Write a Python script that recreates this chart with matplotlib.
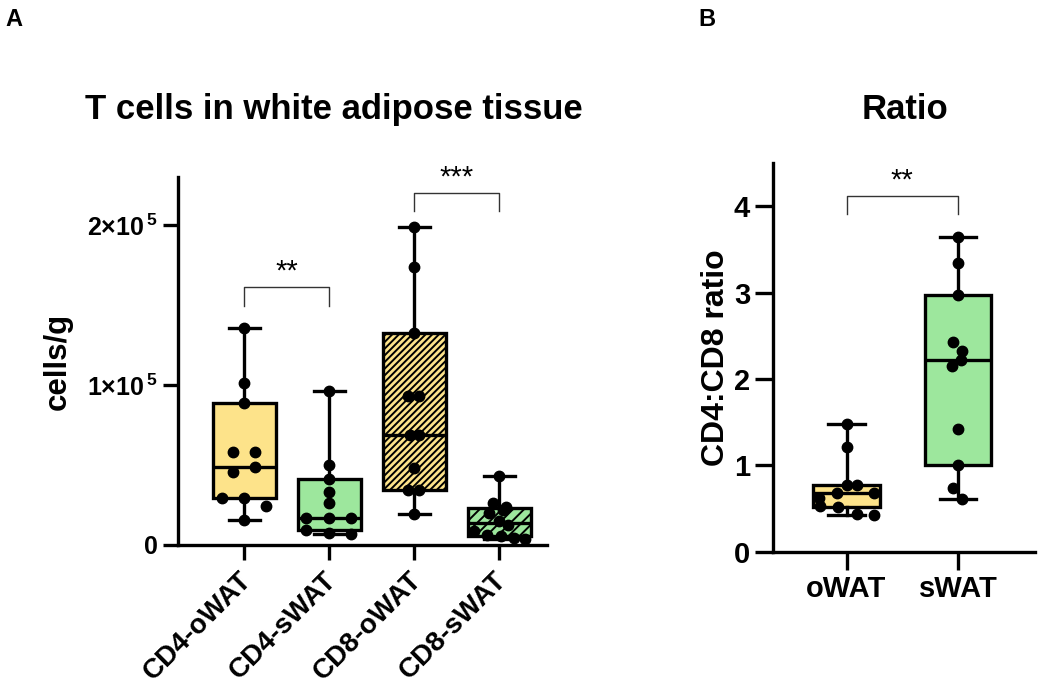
import numpy as np
import matplotlib
matplotlib.use("Agg")
import matplotlib.pyplot as plt
from matplotlib.transforms import ScaledTranslation

plt.rcParams['font.family'] = ['Liberation Sans', 'DejaVu Sans']
plt.rcParams['font.weight'] = 'bold'
plt.rcParams['axes.labelweight'] = 'bold'
plt.rcParams['mathtext.fontset'] = 'custom'
plt.rcParams['mathtext.rm'] = 'Liberation Sans:bold'
plt.rcParams['mathtext.bf'] = 'Liberation Sans:bold'
plt.rcParams['hatch.linewidth'] = 1.4

# ---- data (panel A, cells/g) ----
grupos_a = ["CD4-oWAT", "CD4-sWAT", "CD8-oWAT", "CD8-sWAT"]
cd4_owat = [135400, 101500, 88600, 58300, 58300, 49000, 45800, 29600, 29600, 24400, 15600]
cd4_swat = [96500, 49800, 41000, 33300, 26000, 17100, 17100, 17100, 9200, 7700, 6700]
cd8_owat = [198500, 173500, 132300, 93100, 93100, 68700, 68700, 47900, 34400, 34400, 19400]
cd8_swat = [43100, 26000, 23500, 22000, 20000, 15000, 12500, 9000, 6500, 5500, 4500, 3500]
jit_cd4_owat = [0, 0, 0, -0.13, 0.13, 0.13, -0.13, -0.26, 0, 0.26, 0]
jit_cd4_swat = [0, 0, 0, 0, 0, -0.27, 0, 0.25, -0.27, 0, 0.25]
jit_cd8_owat = [0, 0, 0, -0.07, 0.06, -0.05, 0.06, 0, -0.07, 0.06, 0]
jit_cd8_swat = [0, -0.07, 0.08, 0.04, -0.12, 0, 0.1, -0.3, -0.15, 0.02, 0.17, 0.3]

# ---- data (panel B, ratio) ----
grupos_b = ["oWAT", "sWAT"]
ratio_owat = [1.477, 1.217, 0.773, 0.773, 0.677, 0.677, 0.619, 0.535, 0.522, 0.437, 0.43]
ratio_swat = [3.645, 3.343, 2.976, 2.423, 2.33, 2.22, 2.145, 1.419, 1.01, 0.735, 0.607]
jit_owat = [0, 0, 0, 0.09, -0.09, 0.25, -0.25, -0.24, -0.075, 0.09, 0.25]
jit_swat = [0, 0, 0, -0.045, 0.04, 0.03, -0.05, 0, 0, -0.045, 0.04]

amarelo = "#FDE38A"
verde = "#9DE79D"


def estatisticas(valores):
    v = np.array(valores)
    q1, med, q3 = np.percentile(v, [25, 50, 75], method='weibull')
    return dict(med=med, q1=q1, q3=q3, whislo=v.min(), whishi=v.max(), fliers=[])


def desenhar(ax, dados, jits, cores, hachuras, largura, cap):
    stats = [estatisticas(d) for d in dados]
    lw = 2.4
    bp = ax.bxp(stats, positions=range(len(dados)), widths=largura, patch_artist=True,
                showfliers=False, capwidths=cap,
                boxprops=dict(linewidth=lw, edgecolor='black'),
                whiskerprops=dict(linewidth=lw, color='black'),
                capprops=dict(linewidth=lw, color='black'),
                medianprops=dict(linewidth=lw, color='black'))
    for caixa, cor, h in zip(bp['boxes'], cores, hachuras):
        caixa.set_facecolor(cor)
        if h:
            caixa.set_hatch(h)
    for i, (d, j) in enumerate(zip(dados, jits)):
        ax.plot(np.array(j) + i, d, 'o', color='black', markersize=7.5, zorder=5, clip_on=False)


def colchete(ax, x1, x2, y, h, texto, ytexto):
    ax.plot([x1, x1, x2, x2], [y - h, y, y, y - h], color='#333333', linewidth=1.0, clip_on=False)
    ax.text((x1 + x2) / 2, ytexto, texto, ha='center', va='center', fontsize=21,
            fontweight='normal', clip_on=False)


def estilo(ax, tam_tick, tam_label):
    for lado in ['top', 'right']:
        ax.spines[lado].set_visible(False)
    for lado in ['left', 'bottom']:
        ax.spines[lado].set_linewidth(2.4)
    ax.tick_params(width=2.4, length=tam_tick, labelsize=tam_label)


fig = plt.figure(figsize=(10.39, 6.94), dpi=100)

# Painel A
axA = fig.add_axes([0.1713, 0.2147, 0.3552, 0.5303])
desenhar(axA, [cd4_owat, cd4_swat, cd8_owat, cd8_swat],
         [jit_cd4_owat, jit_cd4_swat, jit_cd8_owat, jit_cd8_swat],
         [amarelo, verde, amarelo, verde], [None, None, '/////', '///'], 0.74, 0.36)
axA.set_xlim(-0.78, 3.56)
axA.set_ylim(0, 230000)
axA.set_yticks([0, 100000, 200000])
axA.set_yticklabels(['0', r'$1{\times}10^{\,5}$', r'$2{\times}10^{\,5}$'])
estilo(axA, 11, 18)
axA.set_xticks(range(4))
axA.set_xticklabels(grupos_a, rotation=45, ha='right', rotation_mode='anchor', fontsize=20)
desloc = ScaledTranslation(-6 / 100, -2 / 100, fig.dpi_scale_trans)
for rot in axA.get_xticklabels():
    rot.set_transform(rot.get_transform() + desloc)
axA.set_ylabel("cells/g", fontsize=22.5, labelpad=10)
colchete(axA, 0, 1, 161000, 11500, "**", 171000)
colchete(axA, 2, 3, 220000, 11000, "***", 229500)

# Painel B
axB = fig.add_axes([0.744, 0.205, 0.252, 0.5600])
desenhar(axB, [ratio_owat, ratio_swat], [jit_owat, jit_swat],
         [amarelo, verde], [None, None], 0.6, 0.33)
axB.set_xlim(-0.66, 1.69)
axB.set_ylim(0, 4.5)
axB.set_yticks([0, 1, 2, 3, 4])
estilo(axB, 13, 21)
axB.set_xticks(range(2))
axB.set_xticklabels(grupos_b, fontsize=21)
axB.set_ylabel("CD4:CD8 ratio", fontsize=23, labelpad=2)
colchete(axB, 0, 1, 4.116, 0.2, "**", 4.30)

fig.text(0.3215, 0.8415, "T cells in white adipose tissue", ha='center', va='center', fontsize=25)
fig.text(0.871, 0.8415, "Ratio", ha='center', va='center', fontsize=25)
fig.text(0.005, 0.972, "A", ha='left', va='center', fontsize=17)
fig.text(0.672, 0.972, "B", ha='left', va='center', fontsize=17)

fig.savefig("out.png", dpi=100)
